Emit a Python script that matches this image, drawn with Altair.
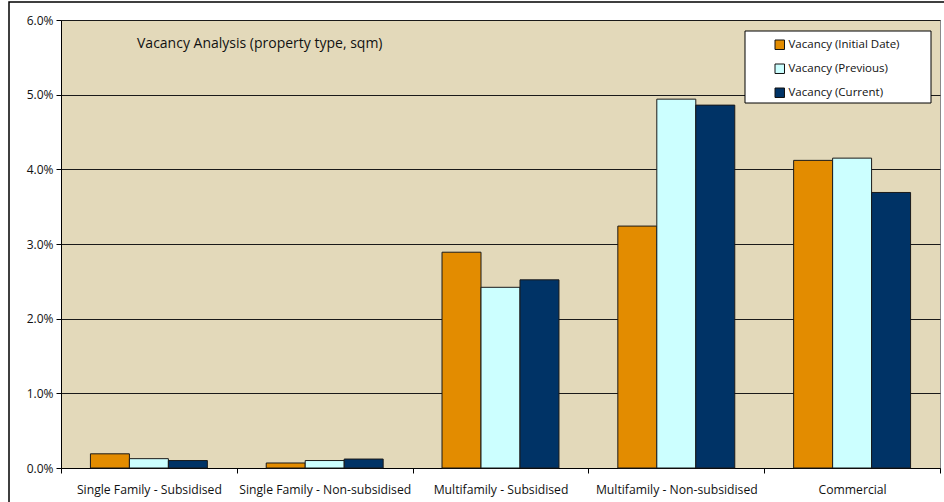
import altair as alt
import pandas as pd

# Vacancy rates by property type (fraction of sqm)
categories = [
    "Single Family - Subsidised",
    "Single Family - Non-subsidised",
    "Multifamily - Subsidised",
    "Multifamily - Non-subsidised",
    "Commercial",
]
series = ["Vacancy (Initial Date)", "Vacancy (Previous)", "Vacancy (Current)"]
initial_date = [0.0019, 0.00067, 0.0289, 0.0324, 0.0412]
previous = [0.00125, 0.0010, 0.0242, 0.0494, 0.0415]
current = [0.0010, 0.0012, 0.0252, 0.0486, 0.0369]
colors = ["#E38C00", "#CCFFFF", "#003366"]
y_ticks = [0.0, 0.01, 0.02, 0.03, 0.04, 0.05, 0.06]
chart_title = "Vacancy Analysis (property type, sqm)"

rows = []
for s, vals in zip(series, [initial_date, previous, current]):
    for c, v in zip(categories, vals):
        rows.append({"category": c, "series": s, "value": v})
df = pd.DataFrame(rows)

W, H = 879, 448
FONT = "Open Sans"

bars = alt.Chart(df).mark_bar(stroke="#1a1a1a", strokeWidth=1).encode(
    x=alt.X(
        "category:N",
        sort=categories,
        title=None,
        scale=alt.Scale(paddingInner=0, paddingOuter=0),
        axis=alt.Axis(
            labelAngle=0,
            tickBand="extent",
            tickSize=5,
            labelPadding=10,
            labelFontSize=12.2,
            domainColor="black",
            tickColor="black",
            labelColor="#111",
            labelFont=FONT,
        ),
    ),
    xOffset=alt.XOffset(
        "series:N", sort=series,
        scale=alt.Scale(paddingInner=0, paddingOuter=0.755),
    ),
    y=alt.Y(
        "value:Q",
        title=None,
        scale=alt.Scale(domain=[0, 0.06], nice=False),
        axis=alt.Axis(
            values=y_ticks,
            format=".1%",
            tickSize=5,
            labelPadding=3,
            labelFontSize=12,
            labelFont=FONT,
            labelColor="#111",
            domainColor="black",
            tickColor="black",
            gridColor="#1a1a1a",
            gridWidth=1,
        ),
    ),
    color=alt.Color(
        "series:N",
        sort=series,
        scale=alt.Scale(domain=series, range=colors),
        legend=alt.Legend(
            title=None,
            orient="none",
            legendX=713,
            legendY=19,
            symbolType="square",
            symbolSize=90,
            symbolStrokeColor="#111",
            symbolStrokeWidth=1,
            symbolOpacity=1,
            labelFontSize=11.5,
            labelFont=FONT,
            labelColor="#111",
            labelOffset=3,
            rowPadding=10,
        ),
    ),
)

one = pd.DataFrame({"k": [0]})

legend_box = alt.Chart(one).mark_rect(
    fill="white", stroke="black", strokeWidth=1
).encode(
    x=alt.value(684), x2=alt.value(870), y=alt.value(11), y2=alt.value(83)
)

heading = alt.Chart(one).mark_text(
    text=chart_title, align="left", baseline="alphabetic",
    font=FONT, fontSize=14, color="#111",
).encode(x=alt.value(76), y=alt.value(28))

frame = alt.Chart(one).mark_rect(
    fillOpacity=0, stroke="black", strokeWidth=1.5, clip=False
).encode(
    x=alt.value(-52), x2=alt.value(W + 20), y=alt.value(-18), y2=alt.value(H + 60)
)

chart = (
    alt.layer(bars, legend_box, heading, frame)
    .properties(
        width=W,
        height=H,
        autosize=alt.AutoSizeParams(type="none"),
        padding={"left": 61, "top": 20, "right": 4, "bottom": 34},
        background="white",
    )
    .configure_view(fill="#E3D9BA", stroke="#8a8a8a", strokeWidth=1)
)

chart.save("out.html", embed_options={"renderer": "svg", "actions": False})
